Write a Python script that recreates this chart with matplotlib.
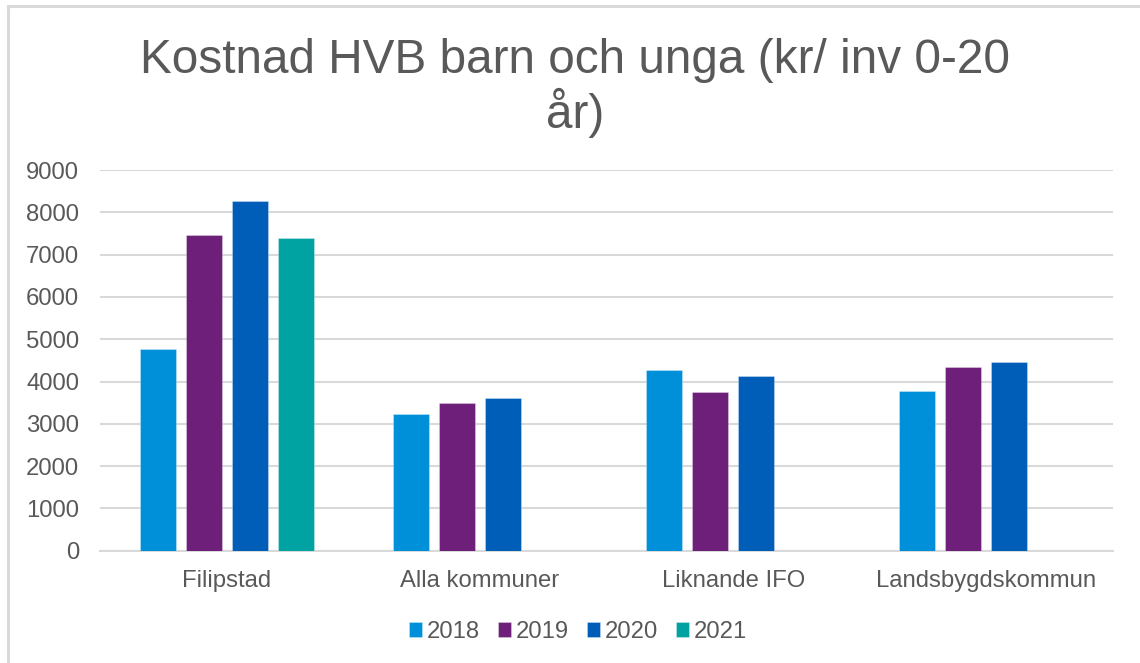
import numpy as np
import matplotlib
matplotlib.use('Agg')
import matplotlib.pyplot as plt
from matplotlib.patches import Rectangle

plt.rcParams['font.family'] = ['Liberation Sans', 'DejaVu Sans']

# data
categories = ['Filipstad', 'Alla kommuner', 'Liknande IFO', 'Landsbygdskommun']
years = ['2018', '2019', '2020', '2021']
v2018 = [4780, 3225, 4265, 3770]
v2019 = [7460, 3490, 3760, 4335]
v2020 = [8260, 3605, 4130, 4455]
v2021 = [7390, np.nan, np.nan, np.nan]
colors = ['#0090DA', '#6D1F7A', '#005EB8', '#00A3A1']

text_col = '#595959'
grid_col = '#D9D9D9'

fig = plt.figure(figsize=(11.4, 6.63), dpi=100)
# ram runt diagrammet
fig.patches.append(Rectangle((8 / 1140, -0.1), 1.2, 1 - 6 / 663 + 0.1,
                             transform=fig.transFigure, fill=False,
                             edgecolor=grid_col, linewidth=2.2))

ax = fig.add_axes([100 / 1140, 1 - 550.7 / 663, 1013 / 1140, 380.7 / 663])

x = np.arange(len(categories))
pitch = 0.1816
width = 0.142
series = [v2018, v2019, v2020, v2021]
for i, (vals, yr, c) in enumerate(zip(series, years, colors)):
    ax.bar(x + (i - 1.5) * pitch, vals, width, color=c, label=yr,
           edgecolor=(1, 1, 1, 0.35), linewidth=0.6, zorder=3)

ax.set_xlim(-0.5, 3.5)
ax.set_ylim(0, 9000)
ax.set_yticks(range(0, 9001, 1000))
ax.yaxis.grid(True, color=grid_col, linewidth=1.5, zorder=0)
for s in ['top', 'right', 'left']:
    ax.spines[s].set_visible(False)
ax.spines['bottom'].set_color(grid_col)
ax.spines['bottom'].set_linewidth(1.5)
ax.set_xticks(x)
ax.set_xticklabels(categories)
ax.tick_params(axis='both', length=0, labelsize=17.2, colors=text_col)
ax.tick_params(axis='y', pad=15)
ax.tick_params(axis='x', pad=14)

fig.text(575 / 1140, 1 - 88 / 663, 'Kostnad HVB barn och unga (kr/ inv 0-20\når)',
         ha='center', va='center', fontsize=34.4, color=text_col, linespacing=1.1)

fig.legend(loc='center', bbox_to_anchor=(578 / 1140, 1 - 632 / 663), ncol=4,
           frameon=False, fontsize=17.2, labelcolor=text_col,
           handlelength=0.55, handleheight=0.55, handletextpad=0.2,
           columnspacing=0.75)

fig.savefig('out.png', dpi=100)
